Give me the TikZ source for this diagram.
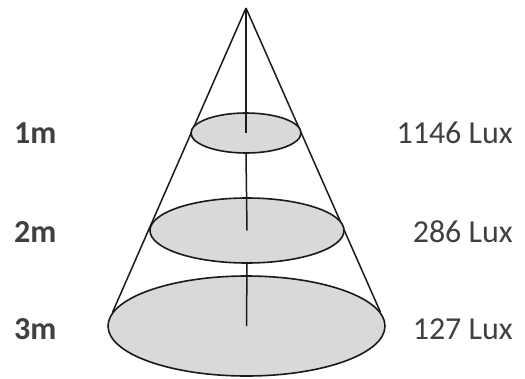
\documentclass[tikz,border=0pt]{standalone}
\usepackage{fontspec}
\setmainfont{Carlito}
\usepackage{xcolor}
\usetikzlibrary{shapes.geometric}
\definecolor{spotgrey}{HTML}{D9D9D9}
\definecolor{inkblack}{HTML}{1A1A1A}
\definecolor{labelgrey}{HTML}{404040}

\begin{document}
\begin{tikzpicture}[
  x=1pt, y=-1pt,
  spot/.style={draw=inkblack, fill=spotgrey, ellipse, line width=1.6pt, inner sep=0pt},
  rayline/.style={draw=inkblack, line width=1.5pt},
  dist/.style={font=\fontsize{32}{34}\selectfont\bfseries, text=labelgrey, anchor=base west, inner sep=0pt},
  lux/.style={font=\fontsize{32}{34}\selectfont, text=labelgrey, anchor=base east, inner sep=0pt}
]
\useasboundingbox (0,0) rectangle (525,378);

% ---- Apex and light spots ----
\coordinate (apex) at (246,8);
\node[spot, minimum width=277pt, minimum height=100pt] (spot3) at (246.5,326) {};
\draw[rayline] (apex) -- (spot3.174);
\draw[rayline] (apex) -- (spot3.6);
\node[spot, minimum width=110pt, minimum height=40pt] (spot1) at (246,133) {};
\node[spot, minimum width=194pt, minimum height=65pt] (spot2) at (247,230.5) {};

% ---- Centre line ----
\draw[rayline] (apex) -- (spot1.center);
\draw[rayline] (spot1.south) -- (spot2.center);
\draw[rayline] (spot2.south) -- (spot3.center);

% ---- Labels ----
\node[dist] (d1) at (14,143) {1m};
\node[dist] (d2) at (14,242) {2m};
\node[dist] (d3) at (14,339) {3m};
\node[lux] (l1) at (513,143) {1146 Lux};
\node[lux] (l2) at (513,242) {286 Lux};
\node[lux] (l3) at (513,339) {127 Lux};

\end{tikzpicture}
\end{document}
